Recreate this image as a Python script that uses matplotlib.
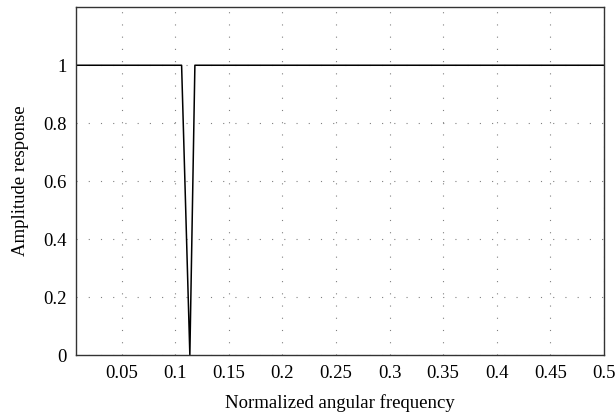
import matplotlib
matplotlib.use("Agg")
import matplotlib.pyplot as plt

freq = [0.0075, 0.106, 0.1137, 0.1184, 0.5]
amp = [1, 1, 0, 1, 1]
xticks = [0.05, 0.1, 0.15, 0.2, 0.25, 0.3, 0.35, 0.4, 0.45, 0.5]
xticklabels = ["0.05", "0.1", "0.15", "0.2", "0.25", "0.3", "0.35", "0.4", "0.45", "0.5"]
yticks = [0, 0.2, 0.4, 0.6, 0.8, 1]
yticklabels = ["0", "0.2", "0.4", "0.6", "0.8", "1"]

plt.rcParams['font.family'] = ['Liberation Serif', 'DejaVu Serif']

fig = plt.figure(figsize=(6.15, 4.19), dpi=100)
ax = fig.add_axes([0.1236, 0.1527, 0.982 - 0.1236, 0.9826 - 0.1527])
ax.plot(freq, amp, color='black', linewidth=1.1)
ax.set_xlim(0.0075, 0.5)
ax.set_ylim(0, 1.2)
ax.set_xticks(xticks)
ax.set_xticklabels(xticklabels)
ax.set_yticks(yticks)
ax.set_yticklabels(yticklabels)
ax.tick_params(length=0, labelsize=13.5, pad=7)
ax.grid(True, color='#808080', linestyle=(0, (1, 10)), linewidth=0.8)
for s in ax.spines.values():
    s.set_color('#333333')
    s.set_linewidth(1.0)
ax.set_xlabel("Normalized angular frequency", fontsize=13.5, labelpad=9)
ax.set_ylabel("Amplitude response", fontsize=13.5, labelpad=10)
fig.savefig("out.png", dpi=100)
